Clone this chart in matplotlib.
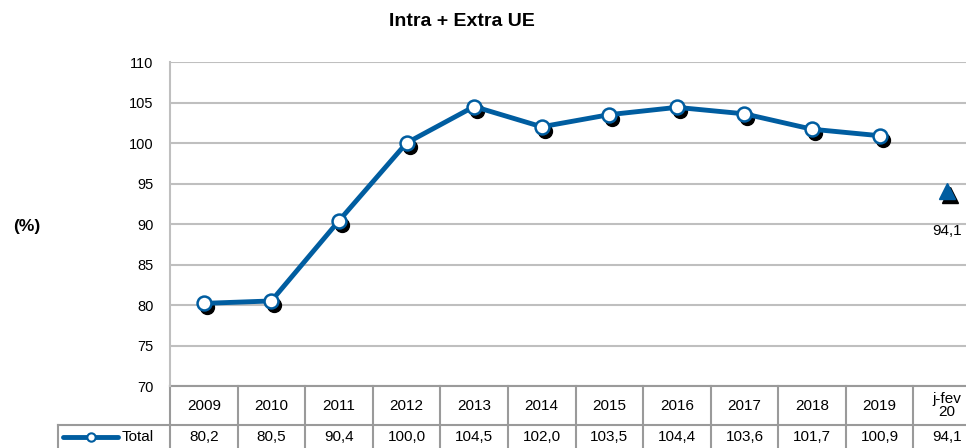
import matplotlib
matplotlib.use("Agg")
import matplotlib.pyplot as plt
import matplotlib.transforms as mtransforms

plt.rcParams['font.family'] = ['Liberation Sans', 'DejaVu Sans']

categories = ["2009", "2010", "2011", "2012", "2013", "2014", "2015", "2016", "2017", "2018", "2019", "j-fev\n20"]
total = [80.2, 80.5, 90.4, 100.0, 104.5, 102.0, 103.5, 104.4, 103.6, 101.7, 100.9, 94.1]
value_labels = ["80,2", "80,5", "90,4", "100,0", "104,5", "102,0", "103,5", "104,4", "103,6", "101,7", "100,9", "94,1"]
yticks = [70, 75, 80, 85, 90, 95, 100, 105, 110]
series_name = "Total"
title = "Intra + Extra UE"
ylabel = "(%)"

blue = "#005DA0"
grid = "#BFBFBF"
tablec = "#9A9A9A"

fig = plt.figure(figsize=(9.66, 4.48), dpi=100)
ax = fig.add_axes([170/966, 1-386/448, 811/966, 324/448])
ax.set_xlim(-0.5, len(categories)-0.5)
ax.set_ylim(70, 110)
ax.set_yticks(yticks)
ax.set_yticklabels([str(t) for t in yticks], fontsize=10.5)
ax.tick_params(axis='y', length=0, pad=12)
ax.set_xticks([])
for s in ['top', 'right', 'bottom']:
    ax.spines[s].set_visible(False)
ax.spines['left'].set_color(grid)
ax.spines['left'].set_linewidth(1.5)
ax.yaxis.grid(True, color=grid, linewidth=1.5)
ax.set_axisbelow(True)

n = len(categories)
xs = list(range(n))
main_x = xs[:-1]
main_y = total[:-1]

shadow = mtransforms.offset_copy(ax.transData, fig=fig, x=3, y=-4, units='dots')
ax.plot(main_x, main_y, linestyle='none', marker='o', markersize=10,
        color='black', transform=shadow, zorder=2)
ax.plot(main_x, main_y, color=blue, linewidth=3.5, marker='o', markersize=10,
        markerfacecolor='white', markeredgecolor=blue, markeredgewidth=1.8, zorder=3)
ax.plot([xs[-1]], [total[-1]], linestyle='none', marker='^', markersize=11,
        color='black', transform=shadow, zorder=2)
ax.plot([xs[-1]], [total[-1]], linestyle='none', marker='^', markersize=11,
        color=blue, zorder=3)
ax.annotate(value_labels[-1], (xs[-1], total[-1]), xytext=(0, -24),
            textcoords='offset points', ha='center', va='top', fontsize=11)

# title and y label
fig.text(462/966, 1-21/448, title, ha='center', va='center', fontsize=14, fontweight='bold')
fig.text(27/966, 1-226/448, ylabel, ha='center', va='center', fontsize=12.5, fontweight='bold')

# data table below
tr = mtransforms.blended_transform_factory(ax.transData, ax.transAxes)
px = 1/324
r0 = 0.0
r1 = -39*px
r2 = -75*px
lw = 1.5
ax.plot([-0.5, n-0.5], [r0, r0], color=tablec, lw=lw, transform=tr, clip_on=False)
x_leg = -0.5 - 112/67.6
ax.plot([x_leg, n-0.5], [r1, r1], color=tablec, lw=lw, transform=tr, clip_on=False)
ax.plot([x_leg, x_leg], [r1, r2], color=tablec, lw=lw, transform=tr, clip_on=False)
for i in range(n+1):
    ax.plot([i-0.5, i-0.5], [r0, r2], color=tablec, lw=lw, transform=tr, clip_on=False)
for i, c in enumerate(categories):
    ax.text(i, (r0+r1)/2, c, ha='center', va='center', fontsize=11, transform=tr,
            linespacing=0.95)
    ax.text(i, r1 - 12*px, value_labels[i], ha='center', va='center', fontsize=11, transform=tr)
# legend in table
ly = r1 - 12*px
lx0 = x_leg + 5/67.6
lx1 = x_leg + 60/67.6
ax.plot([lx0, lx1], [ly, ly], color=blue, lw=3.5, transform=tr, clip_on=False,
        solid_capstyle='round')
ax.plot([(lx0+lx1)/2], [ly], marker='o', markersize=6, markerfacecolor='white',
        markeredgecolor=blue, markeredgewidth=1.5, transform=tr, clip_on=False)
ax.text(lx1 + 4/67.6, ly, series_name, ha='left', va='center', fontsize=11, transform=tr)

fig.savefig("out.png", dpi=100)
